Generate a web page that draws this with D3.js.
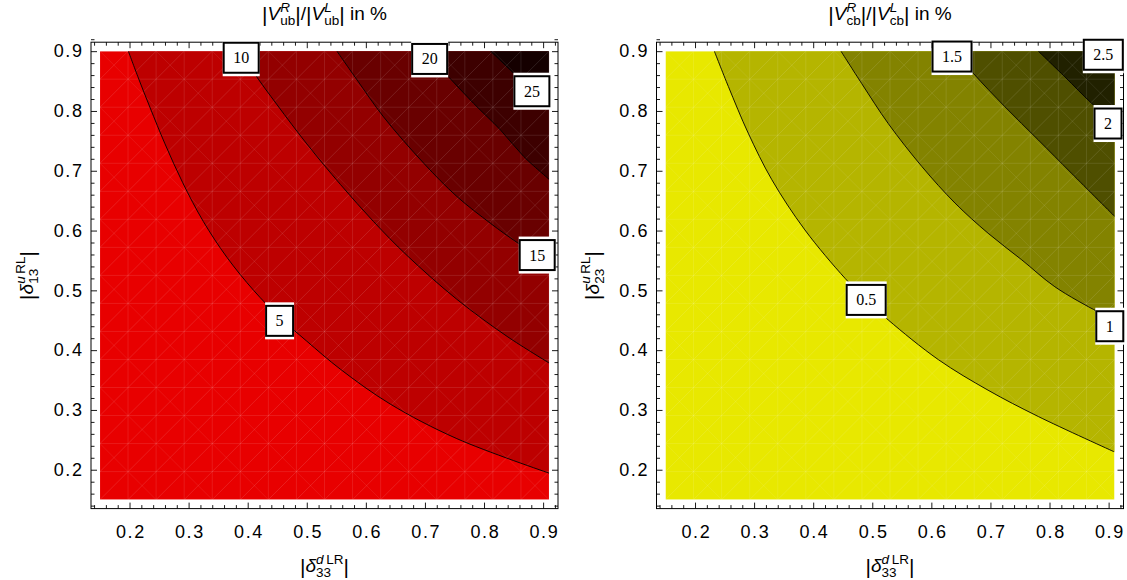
<!DOCTYPE html>
<html>
<head>
<meta charset="utf-8">
<script src="https://cdn.jsdelivr.net/npm/d3@7"></script>
<style>
    html, body { margin: 0; padding: 0; background: #fff; }
    svg { display: block; }
    text { font-family: "Liberation Sans", Arial, Helvetica, sans-serif; fill: #000; }
</style>
</head>
<body>
<svg id="chart" width="1127" height="580"></svg>
<script>
(function () {
    'use strict';

    // axes
    var xTicks = [0.2, 0.3, 0.4, 0.5, 0.6, 0.7, 0.8, 0.9];
    var yTicks = [0.2, 0.3, 0.4, 0.5, 0.6, 0.7, 0.8, 0.9];
    var xRange = [0.15, 0.91];
    var yRange = [0.15, 0.9];

    // |V_ub^R|/|V_ub^L| contours (x, y)
    var ubLevels = ['5', '10', '15', '20', '25'];
    var ubContour5 = [[0.198, 0.9], [0.215, 0.855], [0.235, 0.805], [0.26, 0.745], [0.29, 0.68], [0.325, 0.615],
        [0.365, 0.555], [0.41, 0.5], [0.454, 0.455], [0.5, 0.415], [0.557, 0.368], [0.641, 0.31], [0.754, 0.252], [0.911, 0.194]];
    var ubContour10 = [[0.39, 0.9], [0.41, 0.865], [0.45, 0.81], [0.5, 0.745], [0.557, 0.677], [0.613, 0.615],
        [0.67, 0.558], [0.754, 0.485], [0.839, 0.423], [0.911, 0.378]];
    var ubContour15 = [[0.551, 0.9], [0.585, 0.852], [0.63, 0.79], [0.698, 0.7125], [0.754, 0.657], [0.811, 0.612],
        [0.856, 0.58], [0.911, 0.545]];
    var ubContour20 = [[0.70, 0.9], [0.74, 0.857], [0.782, 0.813], [0.828, 0.768], [0.867, 0.724], [0.911, 0.685]];
    var ubContour25 = [[0.811, 0.9], [0.847, 0.866], [0.88, 0.833], [0.911, 0.805]];
    var ubLabelPos = [[0.454, 0.449], [0.389, 0.889], [0.890, 0.559], [0.708, 0.887], [0.881, 0.833]];

    // |V_cb^R|/|V_cb^L| contours
    var cbLevels = ['0.5', '1', '1.5', '2', '2.5'];
    var cbContour05 = [[0.2327, 0.9], [0.2564, 0.841], [0.29, 0.763], [0.33, 0.685], [0.386, 0.601], [0.454, 0.52],
        [0.489, 0.485], [0.527, 0.4505], [0.612, 0.384], [0.696, 0.333], [0.781, 0.289], [0.9095, 0.23]];
    var cbContour1 = [[0.447, 0.9], [0.482, 0.846], [0.527, 0.779], [0.584, 0.707], [0.64, 0.646], [0.696, 0.5955],
        [0.753, 0.551], [0.809, 0.506], [0.882, 0.464], [0.911, 0.45]];
    var cbContour15 = [[0.64, 0.9], [0.671, 0.863], [0.7245, 0.807], [0.781, 0.7515], [0.837, 0.696], [0.911, 0.623]];
    var cbContour2 = [[0.781, 0.9], [0.826, 0.857], [0.871, 0.813], [0.911, 0.779]];
    var cbContour25 = [[0.885, 0.9], [0.911, 0.875]];
    var cbLabelPos = [[0.4897, 0.484], [0.902, 0.44], [0.635, 0.891], [0.899, 0.779], [0.891, 0.894]];

    var redShades = ['#e80000', '#bd0000', '#930000', '#690000', '#3d0000', '#150000'];
    var yellowShades = ['#e8e800', '#b5b500', '#838300', '#4f4f00', '#212100', '#0a0a00'];

    var frameX = [0.1348, 0.9252], frameY = [0.135, 0.915];
    var frameW = 467, frameH = 466.4, frameTop = 42.2;

    var svg = d3.select('#chart');

    function richText(parent, segs) {
        var g = parent.append('g');
        var cx = 0;
        segs.forEach(function (s) {
            var parts = s.stack || [s];
            var adv = 0;
            parts.forEach(function (q) {
                var t = g.append('text').attr('x', cx).attr('y', q.dy || 0)
                    .style('font-size', (q.size || 19) + 'px');
                q.runs.forEach(function (r) {
                    t.append('tspan').style('font-style', r.it ? 'italic' : 'normal').text(r.t);
                });
                adv = Math.max(adv, t.node().getComputedTextLength());
            });
            cx += adv + (s.gap || 0);
        });
        g.attr('transform', 'translate(' + (-cx / 2) + ',0)');
        return g;
    }

    function bar() { return {runs: [{t: '|'}], size: 21, dy: 1.5}; }
    function script(runs, dy) { return {runs: runs, size: 13.5, dy: dy}; }

    function ratioTitle(sub) {
        return [bar(), {runs: [{t: 'V', it: true}]},
            {stack: [script([{t: 'R', it: true}], -8), script([{t: sub}], 5)]},
            bar(), {runs: [{t: '/'}]}, bar(), {runs: [{t: 'V', it: true}]},
            {stack: [script([{t: 'L', it: true}], -8), script([{t: sub}], 5)]},
            bar(), {runs: [{t: '\u00a0in %'}]}];
    }

    function deltaLabel(flavour, chir, idx) {
        return [bar(), {runs: [{t: '\u03b4', it: true}]},
            {stack: [script([{t: flavour, it: true}, {t: '\u2009' + chir}], -8.5), script([{t: idx}], 5)]},
            bar()];
    }

    function drawPanel(p) {
        var x = d3.scaleLinear().domain(frameX).range([p.left, p.left + frameW]);
        var y = d3.scaleLinear().domain(frameY).range([frameTop + frameH, frameTop]);
        var g = svg.append('g');
        var clipId = 'clip-' + p.id;
        svg.append('clipPath').attr('id', clipId).append('rect')
            .attr('x', x(xRange[0])).attr('y', y(yRange[1]))
            .attr('width', x(xRange[1]) - x(xRange[0]))
            .attr('height', y(yRange[0]) - y(yRange[1]));
        var plot = g.append('g').attr('clip-path', 'url(#' + clipId + ')');

        plot.append('rect')
            .attr('x', x(xRange[0])).attr('y', y(yRange[1]))
            .attr('width', x(xRange[1]) - x(xRange[0]))
            .attr('height', y(yRange[0]) - y(yRange[1]))
            .attr('fill', p.shades[0]);

        var line = d3.line()
            .x(function (d) { return x(d[0]); })
            .y(function (d) { return y(d[1]); })
            .curve(d3.curveCatmullRom.alpha(0.5));

        p.contours.forEach(function (c, i) {
            plot.append('path')
                .attr('d', line(c) + 'L' + x(xRange[1] + 0.01) + ',' + y(c[c.length - 1][1]) +
                    'L' + x(xRange[1] + 0.01) + ',' + y(yRange[1] + 0.01) + 'L' + x(c[0][0]) + ',' + y(yRange[1] + 0.01) + 'Z')
                .attr('fill', p.shades[i + 1]);
        });

        // triangulation mesh shimmer
        var n = 16;
        var sx = (xRange[1] - xRange[0]) / n, sy = (yRange[1] - yRange[0]) / n;
        var mesh = plot.append('g').attr('stroke', '#fff').attr('stroke-width', 0.8).attr('fill', 'none');
        d3.range(n + 1).forEach(function (i) {
            mesh.append('line').attr('stroke-opacity', 0.13)
                .attr('x1', x(xRange[0] + i * sx)).attr('x2', x(xRange[0] + i * sx))
                .attr('y1', y(yRange[0])).attr('y2', y(yRange[1]));
            mesh.append('line').attr('stroke-opacity', 0.13)
                .attr('x1', x(xRange[0])).attr('x2', x(xRange[1]))
                .attr('y1', y(yRange[0] + i * sy)).attr('y2', y(yRange[0] + i * sy));
        });
        d3.range(-n, n + 1).forEach(function (k) {
            mesh.append('line').attr('stroke-opacity', 0.15)
                .attr('x1', x(xRange[0] + k * sx)).attr('y1', y(yRange[0]))
                .attr('x2', x(xRange[0] + (k + n) * sx)).attr('y2', y(yRange[1]));
            if (k % 2 === 0) {
                mesh.append('line').attr('stroke-opacity', 0.1)
                    .attr('x1', x(xRange[0] + k * sx)).attr('y1', y(yRange[1]))
                    .attr('x2', x(xRange[0] + (k + n) * sx)).attr('y2', y(yRange[0]));
            }
        });

        p.contours.forEach(function (c) {
            plot.append('path').attr('d', line(c))
                .attr('fill', 'none').attr('stroke', '#000').attr('stroke-width', 0.9);
        });

        // frame + ticks
        var minor = d3.range(7, 47).map(function (i) { return i / 50; })
            .filter(function (v) { return Math.round(v * 50) % 5 !== 0; });
        var axes = g.append('g');
        function addAxis(gen, tr, vals, size, fmt, pad) {
            var a = axes.append('g').attr('transform', tr)
                .call(gen.tickValues(vals).tickSize(-size).tickPadding(pad || 3)
                    .tickFormat(fmt ? d3.format('.1f') : function () { return ''; }));
            a.select('.domain').remove();
            a.selectAll('line').attr('stroke', '#000').attr('stroke-width', 0.9);
            a.selectAll('text').attr('font-family', null).attr('font-size', null)
                .style('font-size', '18px').style('letter-spacing', '1.6px');
            return a;
        }
        var bottom = frameTop + frameH, right = p.left + frameW;
        addAxis(d3.axisBottom(x), 'translate(0,' + bottom + ')', xTicks, 6, true, 17)
            .selectAll('text').attr('dx', '0.8');
        addAxis(d3.axisBottom(x), 'translate(0,' + bottom + ')', minor, 3.5, false);
        addAxis(d3.axisTop(x), 'translate(0,' + frameTop + ')', xTicks, 6, false);
        addAxis(d3.axisTop(x), 'translate(0,' + frameTop + ')', minor, 3.5, false);
        addAxis(d3.axisLeft(y), 'translate(' + p.left + ',0)', yTicks, 6, true, 7.5);
        addAxis(d3.axisLeft(y), 'translate(' + p.left + ',0)', minor, 3.5, false);
        addAxis(d3.axisRight(y), 'translate(' + right + ',0)', yTicks, 6, false);
        addAxis(d3.axisRight(y), 'translate(' + right + ',0)', minor, 3.5, false);

        g.append('rect').attr('x', p.left).attr('y', frameTop).attr('width', frameW).attr('height', frameH)
            .attr('fill', 'none').attr('stroke', '#000').attr('stroke-width', 1);

        // contour labels
        p.levels.forEach(function (t, i) {
            var lg = g.append('g')
                .attr('transform', 'translate(' + x(p.labelPos[i][0]) + ',' + y(p.labelPos[i][1]) + ')');
            var txt = lg.append('text').attr('text-anchor', 'middle').attr('y', 5.5)
                .style('font-family', '"Liberation Serif", "Times New Roman", serif').style('font-size', '16px')
                .text(t);
            var w = txt.node().getComputedTextLength() + 21, h = 32;
            lg.insert('rect', 'text').attr('x', -w / 2).attr('y', -h / 2 - 2.5)
                .attr('width', w).attr('height', h + 5).attr('fill', '#fff');
            lg.insert('rect', 'text').attr('x', -w / 2 + 1).attr('y', -h / 2 + 1)
                .attr('width', w - 2).attr('height', h - 2)
                .attr('fill', '#fff').attr('stroke', '#000').attr('stroke-width', 2);
        });

        // titles
        var cx = p.left + frameW / 2;
        richText(svg.append('g').attr('transform', 'translate(' + cx + ',20)'), ratioTitle(p.sub));
        richText(svg.append('g').attr('transform', 'translate(' + cx + ',572)'), deltaLabel('d', 'LR', '33'));
        richText(svg.append('g').attr('transform', 'translate(' + (p.left - 58) + ',' + (frameTop + frameH / 2) + ') rotate(-90)'),
            deltaLabel('u', 'RL', p.yIdx));
    }

    drawPanel({id: 'ub', left: 91, sub: 'ub', yIdx: '13', levels: ubLevels, labelPos: ubLabelPos,
        contours: [ubContour5, ubContour10, ubContour15, ubContour20, ubContour25], shades: redShades});
    drawPanel({id: 'cb', left: 656.5, sub: 'cb', yIdx: '23', levels: cbLevels, labelPos: cbLabelPos,
        contours: [cbContour05, cbContour1, cbContour15, cbContour2, cbContour25], shades: yellowShades});
})();
</script>
</body>
</html>
